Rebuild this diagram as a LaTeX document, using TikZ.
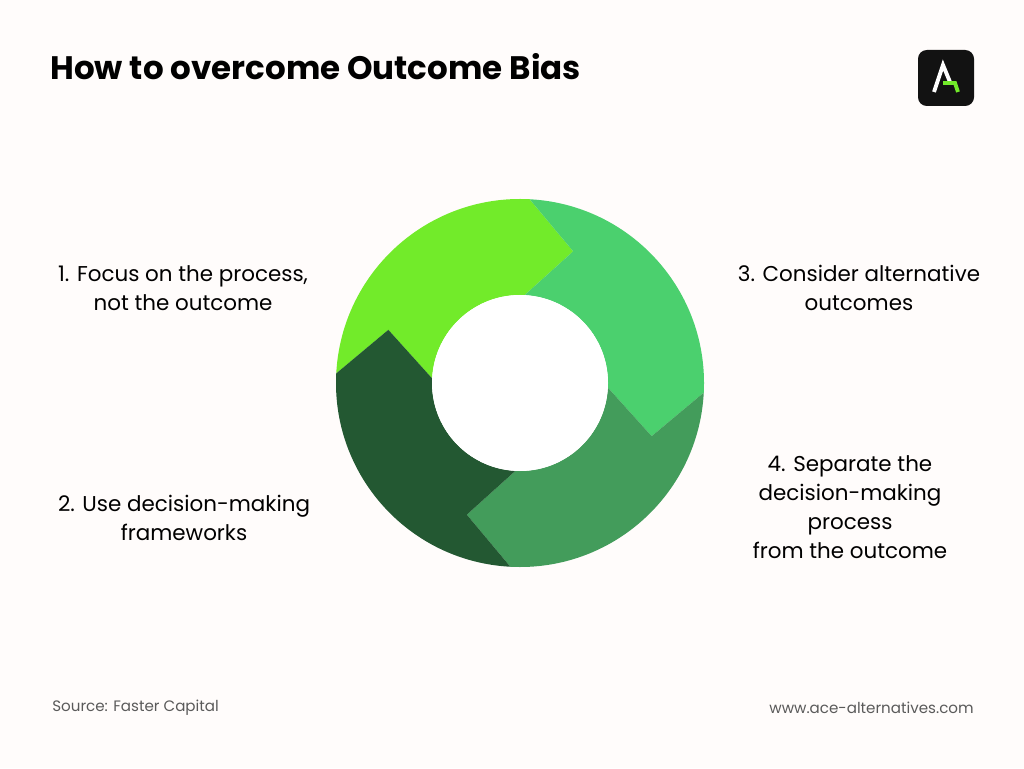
\documentclass[tikz,border=0pt]{standalone}
\usepackage{fontspec}
\setmainfont{Poppins}
\usetikzlibrary{positioning}
\definecolor{bgpaper}{RGB}{255,252,251}
\definecolor{limegreen}{RGB}{114,235,42}
\definecolor{mintgreen}{RGB}{75,208,110}
\definecolor{midgreen}{RGB}{67,156,91}
\definecolor{darkgreen}{RGB}{35,88,50}
\definecolor{srcgray}{RGB}{90,90,90}
% one arrow-shaped quarter of the ring, from angle #1 clockwise to #1-90
\newcommand{\ringseg}[2]{%
  \fill[#2] (#1:184) arc[start angle=#1, end angle=#1-90, radius=184]
    -- (#1-109:142) -- (#1-90:88) arc[start angle=#1-90, end angle=#1, radius=88]
    -- (#1-19:142) -- cycle;}

\begin{document}
\begin{tikzpicture}[x=0.02cm, y=0.02cm,
  label/.style={font=\fontsize{12.2}{16.5}\selectfont, align=center, text=black}]
\useasboundingbox[fill=bgpaper] (0,0) rectangle (1024,768);

% title
\node[anchor=west, inner sep=0, font=\fontsize{18.5}{22}\selectfont\bfseries] (title) at (50,701) {How to overcome Outcome Bias};

% logo
\fill[black!93, rounded corners=5] (918,662) rectangle (974,718);
\draw[white, line width=2.2pt] (934,676) -- (943,703) -- (950,686);
\draw[limegreen, line width=2.2pt] (943,685) -- (955,685) -- (958,676);

% ring
\begin{scope}[shift={(520,385)}]
\ringseg{177}{limegreen}
\ringseg{87}{mintgreen}
\ringseg{-3}{midgreen}
\ringseg{-93}{darkgreen}
\fill[white] (0,0) circle (88);
\end{scope}

% labels
\node[label] (focus) at (183,480) {1. Focus on the process,\\not the outcome};
\node[label] (consider) at (859,480) {3. Consider alternative\\outcomes};
\node[label] (frameworks) at (184,250) {2. Use decision-making\\frameworks};
\node[label] (separate) at (850,261) {4. Separate the\\decision-making\\process\\from the outcome};

% footer
\node[anchor=west, inner sep=0, text=srcgray, font=\fontsize{8.6}{10}\selectfont] (source) at (52,60) {Source: Faster Capital};
\node[anchor=east, inner sep=0, text=srcgray, font=\fontsize{8.6}{10}\selectfont] (site) at (974,60) {www.ace-alternatives.com};
\end{tikzpicture}
\end{document}
